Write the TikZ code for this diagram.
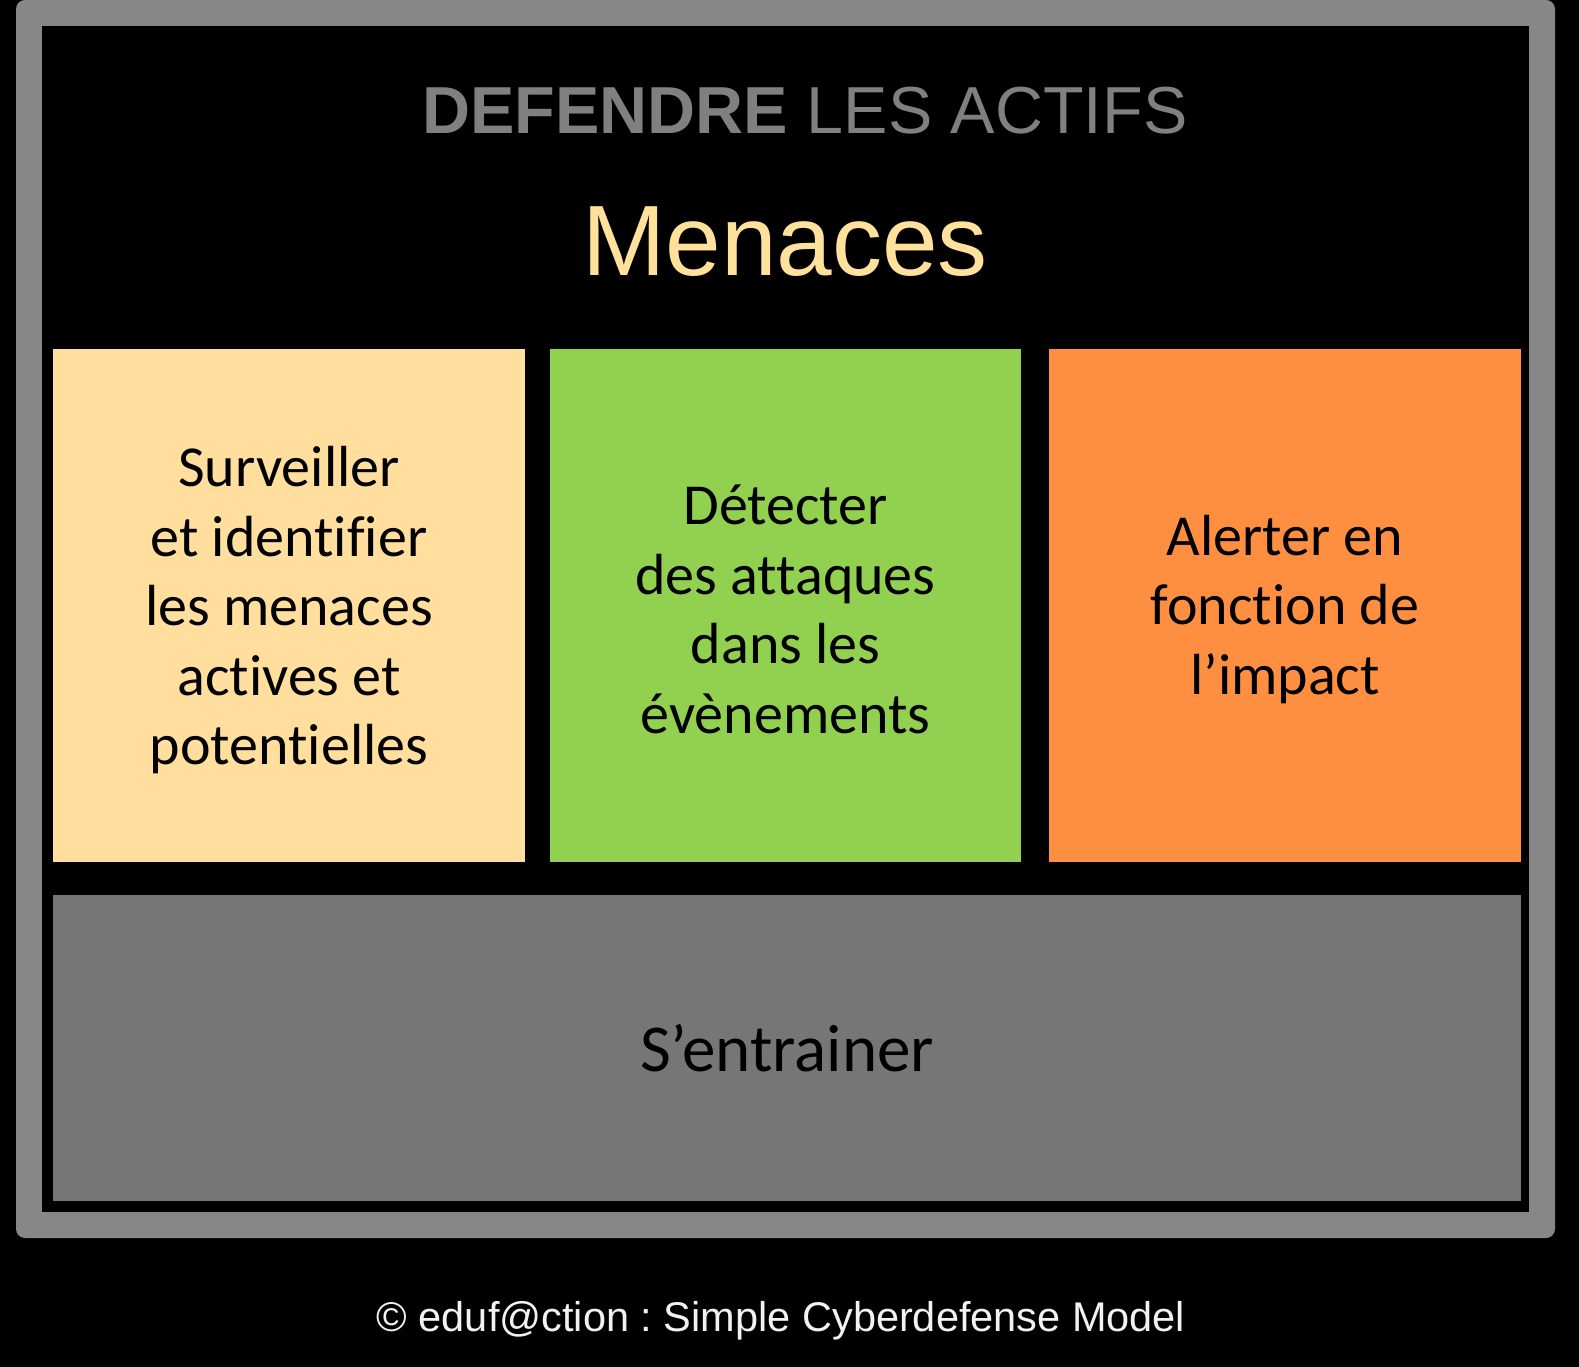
\documentclass[tikz,border=0pt]{standalone}
\usepackage{fontspec}
\setmainfont{Liberation Sans}
\newfontfamily\calib[Ligatures={NoCommon}]{Carlito}
\definecolor{framegray}{HTML}{878787}
\definecolor{titlegray}{HTML}{808080}
\definecolor{boxgray}{HTML}{767676}
\definecolor{yel}{HTML}{FFDE9E}
\definecolor{grn}{HTML}{92D050}
\definecolor{org}{HTML}{FF8F40}
\definecolor{menc}{HTML}{FFE19C}
\definecolor{foot}{HTML}{F2F2F2}
\tikzset{
  panel/.style={rectangle, inner sep=0pt, align=center, text=black,
    font=\calib\fontsize{58}{69.5}\selectfont},
  paneltext/.style={inner sep=0pt, align=center, text=black,
    font=\calib\fontsize{58}{69.5}\selectfont},
}
\begin{document}
\frenchspacing
\begin{tikzpicture}[x=1pt,y=-1pt]
\fill[black] (0,0) rectangle (1579,1367);
\useasboundingbox (0,0) rectangle (1579,1367);
\fill[framegray, rounded corners=9pt] (16,0) rectangle (1555,1238);
\fill[black] (42,26) rectangle (1529,1212);
\node[anchor=base, text=titlegray, font=\fontsize{66.5}{80}\selectfont, inner sep=0pt] (title) at (805,134) {\textbf{DEFENDRE} LES ACTIFS};
\node[anchor=base, text=menc, font=\fontsize{100}{120}\selectfont, inner sep=0pt] (menaces) at (785,275) {Menaces};
\node[panel, fill=yel, minimum width=472pt, minimum height=513pt] (surv) at (289,605.5) {};
\node[panel, fill=grn, minimum width=471pt, minimum height=513pt] (det) at (785.5,605.5) {};
\node[panel, fill=org, minimum width=472pt, minimum height=513pt] (alert) at (1285,605.5) {};
\node[paneltext] (survt) at ([yshift=-5pt]surv.center) {Surveiller\\et identifier\\les menaces\\actives et\\potentielles};
\node[paneltext] (dett) at ([yshift=-4pt]det.center) {Détecter\\des attaques\\dans les\\évènements};
\node[paneltext] (alertt) at ([yshift=-4pt]alert.center) {Alerter en\\fonction de\\l’impact};
\node[panel, fill=boxgray, minimum width=1468pt, minimum height=306pt, font=\calib\fontsize{67}{78}\selectfont] (train) at (787,1048) {S’entrainer};
\node[anchor=base, text=foot, font=\fontsize{41.5}{50}\selectfont, inner sep=0pt] (footer) at (781,1331) {© eduf@ction : Simple Cyberdefense Model};
\end{tikzpicture}
\end{document}
